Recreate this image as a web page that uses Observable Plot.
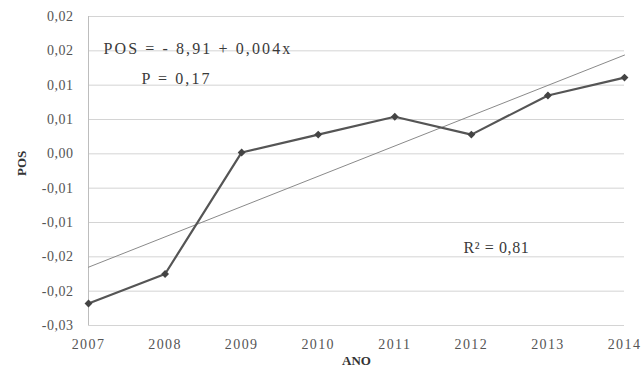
<!DOCTYPE html>
<html>
<head>
<meta charset="utf-8">
<script src="https://cdn.jsdelivr.net/npm/d3@7"></script>
<script src="https://cdn.jsdelivr.net/npm/@observablehq/plot@0.6"></script>
<style>
  html, body { margin: 0; padding: 0; background: #fff; }
  #chart { width: 642px; height: 370px; overflow: hidden; }
</style>
</head>
<body>
<div id="chart"></div>
<script>
const years = [2007, 2008, 2009, 2010, 2011, 2012, 2013, 2014];
const posValues = [-0.0218, -0.0175, 0.0002, 0.0028, 0.0054, 0.0028, 0.0085, 0.0111];
const yTickValues = [-0.025, -0.02, -0.015, -0.01, -0.005, 0, 0.005, 0.01, 0.015, 0.02];
const yTickLabels = ["-0,03", "-0,02", "-0,02", "-0,01", "-0,01", "0,00", "0,01", "0,01", "0,02", "0,02"];
const xTickLabels = ["2007", "2008", "2009", "2010", "2011", "2012", "2013", "2014"];
const annotations = ["POS = - 8,91 + 0,004x", "P = 0,17", "R² = 0,81"];
const xLabel = "ANO";
const yLabel = "POS";

const data = years.map((year, i) => ({year, pos: posValues[i]}));
const font = "'Liberation Serif', 'DejaVu Serif', serif";

const chart = Plot.plot({
  width: 642,
  height: 370,
  marginLeft: 88,
  marginRight: 18,
  marginTop: 16,
  marginBottom: 45,
  style: {fontFamily: font, fontSize: "14px", color: "#555", background: "#fff"},
  x: {domain: [2007, 2014], label: null},
  y: {domain: [-0.025, 0.02], label: null},
  marks: [
    Plot.gridY(yTickValues, {stroke: "#d4d4d4", strokeOpacity: 1, strokeWidth: 1}),
    Plot.ruleX([2007], {stroke: "#bdbdbd", strokeWidth: 1}),
    Plot.axisY({ticks: yTickValues, tickSize: 0, tickPadding: 15,
      tickFormat: d => yTickLabels[yTickValues.indexOf(d)], fill: "#555"}),
    Plot.axisX({ticks: years, tickSize: 0, tickPadding: 14,
      tickFormat: d => xTickLabels[years.indexOf(d)], fill: "#555"}),
    Plot.linearRegressionY(data, {x: "year", y: "pos", ci: 0, stroke: "#8a8a8a", strokeWidth: 1}),
    Plot.line(data, {x: "year", y: "pos", stroke: "#555", strokeWidth: 2.2}),
    Plot.dot(data, {x: "year", y: "pos", symbol: "diamond2", r: 2.6, fill: "#444", stroke: "#444"}),
    Plot.text([annotations[0]], {frameAnchor: "top-left", dx: 15, dy: 26, textAnchor: "start",
      fontSize: 16, fill: "#3a3a3a"}),
    Plot.text([annotations[1]], {frameAnchor: "top-left", dx: 53, dy: 56, textAnchor: "start",
      fontSize: 16, fill: "#3a3a3a"}),
    Plot.text([annotations[2]], {frameAnchor: "top-left", dx: 375, dy: 225, textAnchor: "start",
      fontSize: 16, fill: "#3a3a3a"}),
    Plot.text([xLabel], {frameAnchor: "bottom", dy: 39, fontSize: 13, fontWeight: "bold", fill: "#333"}),
    Plot.text([yLabel], {frameAnchor: "left", dx: -67, dy: 5, rotate: -90, fontSize: 13, fontWeight: "bold", fill: "#333"})
  ]
});

const svg = d3.select(chart);
svg.selectAll("text").filter(function() { return this.textContent === annotations[0] || this.textContent === annotations[1]; })
  .attr("letter-spacing", "2.1");
svg.selectAll("text").filter(function() { return this.textContent === annotations[2]; })
  .attr("letter-spacing", "0.6");
svg.selectAll("g[aria-label='x-axis tick label'] text").attr("letter-spacing", "1.4");
svg.selectAll("g[aria-label='y-axis tick label'] text").attr("letter-spacing", "0.5");
document.getElementById("chart").appendChild(chart);
</script>
</body>
</html>
